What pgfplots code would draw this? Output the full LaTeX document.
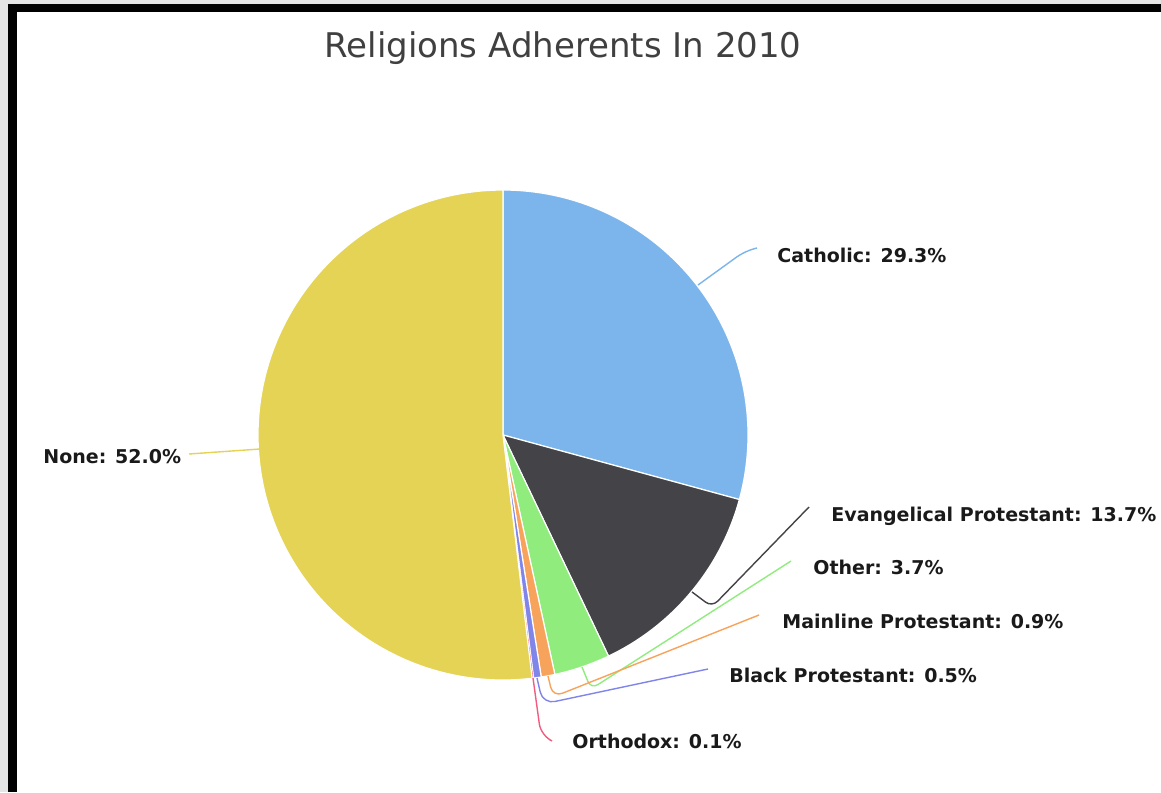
\documentclass[border=0pt]{standalone}
\usepackage{pgfplots}
\pgfplotsset{compat=1.18}
\usepackage{fontspec}
\setmainfont{DejaVu Sans}
\definecolor{cCath}{HTML}{7CB5EC}
\definecolor{cEvan}{HTML}{434348}
\definecolor{cOther}{HTML}{90ED7D}
\definecolor{cMain}{HTML}{F7A35C}
\definecolor{cBlack}{HTML}{8085E9}
\definecolor{cOrth}{HTML}{F15C80}
\definecolor{cNone}{HTML}{E4D354}
\definecolor{cTitle}{HTML}{404040}
\definecolor{cLab}{HTML}{1A1A1A}
\definecolor{cBg}{HTML}{E4E4E4}
\begin{document}
\begin{tikzpicture}
% data (percent)
\def\vCath{29.3}
\def\vEvan{13.7}
\def\vOther{3.7}
\def\vMain{0.9}
\def\vBlack{0.5}
\def\vOrth{0.1}
\def\vNone{52.0}
\pgfmathsetmacro\tot{\vCath+\vEvan+\vOther+\vMain+\vBlack+\vOrth+\vNone}
\pgfmathsetmacro\aA{90}
\pgfmathsetmacro\aB{\aA-\vCath/\tot*360}
\pgfmathsetmacro\aC{\aB-\vEvan/\tot*360}
\pgfmathsetmacro\aD{\aC-\vOther/\tot*360}
\pgfmathsetmacro\aE{\aD-\vMain/\tot*360}
\pgfmathsetmacro\aF{\aE-\vBlack/\tot*360}
\pgfmathsetmacro\aG{\aF-\vOrth/\tot*360}
\pgfmathsetmacro\aH{\aG-\vNone/\tot*360}
\begin{axis}[width=580.5pt,height=396pt,scale only axis,
  xmin=0,xmax=1161,ymin=0,ymax=792,y dir=reverse,
  hide axis,clip=false]
% background and frame
\fill[cBg] (axis cs:0,0) rectangle (axis cs:1161,792);
\fill[black] (axis cs:8,4) rectangle (axis cs:1161,792);
\fill[white] (axis cs:17,12) rectangle (axis cs:1161,792);
% slices
\addplot[fill=cCath, draw=white, line width=0.6pt, domain=\aB:\aA, samples=80] ({503+245*cos(x)},{435-245*sin(x)}) -- (axis cs:503,435) -- cycle;
\addplot[fill=cEvan, draw=white, line width=0.6pt, domain=\aC:\aB, samples=50] ({503+245*cos(x)},{435-245*sin(x)}) -- (axis cs:503,435) -- cycle;
\addplot[fill=cOther, draw=white, line width=0.6pt, domain=\aD:\aC, samples=20] ({503+245*cos(x)},{435-245*sin(x)}) -- (axis cs:503,435) -- cycle;
\addplot[fill=cMain, draw=white, line width=0.6pt, domain=\aE:\aD, samples=10] ({503+245*cos(x)},{435-245*sin(x)}) -- (axis cs:503,435) -- cycle;
\addplot[fill=cBlack, draw=white, line width=0.6pt, domain=\aF:\aE, samples=6] ({503+245*cos(x)},{435-245*sin(x)}) -- (axis cs:503,435) -- cycle;
\addplot[fill=cOrth, draw=white, line width=0.3pt, domain=\aG:\aF, samples=3] ({503+245*cos(x)},{435-245*sin(x)}) -- (axis cs:503,435) -- cycle;
\addplot[fill=cNone, draw=white, line width=0.6pt, domain=\aH:\aG, samples=150] ({503+245*cos(x)},{435-245*sin(x)}) -- (axis cs:503,435) -- cycle;
% connectors
\tikzset{conn/.style={line width=0.7pt}}
\addplot[cCath, conn, rounded corners=5pt] coordinates {(698,285) (745,251) (757,248)};
\addplot[cEvan, conn, rounded corners=4pt] coordinates {(692,592) (712,607) (809,507)};
\addplot[cOther, conn, rounded corners=4pt] coordinates {(582,667) (591,689) (791,561)};
\addplot[cMain, conn, rounded corners=5pt] coordinates {(548,676) (553,697) (759,615)};
\addplot[cBlack, conn, rounded corners=6pt] coordinates {(537,678) (543,704) (708,669)};
\addplot[cOrth, conn, rounded corners=6pt] coordinates {(533,678) (541,736) (550,740)};
\addplot[cNone, conn] coordinates {(260,449) (189,454)};
% labels
\tikzset{lab/.style={anchor=base west, inner sep=0pt, text=cLab, font=\bfseries\fontsize{9.5}{11}\selectfont}}
\node[lab] at (axis cs:777,262) {Catholic: 29.3\%};
\node[lab] at (axis cs:831,521) {Evangelical Protestant: 13.7\%};
\node[lab] at (axis cs:813,574) {Other: 3.7\%};
\node[lab] at (axis cs:782,628) {Mainline Protestant: 0.9\%};
\node[lab] at (axis cs:729,682) {Black Protestant: 0.5\%};
\node[lab] at (axis cs:572,748) {Orthodox: 0.1\%};
\node[lab] at (axis cs:43,463) {None: 52.0\%};
% title
\node[anchor=base, inner sep=0pt, text=cTitle, font=\fontsize{17}{20}\selectfont] at (axis cs:563,58) {Religions Adherents In 2010};
\end{axis}
\end{tikzpicture}
\end{document}
